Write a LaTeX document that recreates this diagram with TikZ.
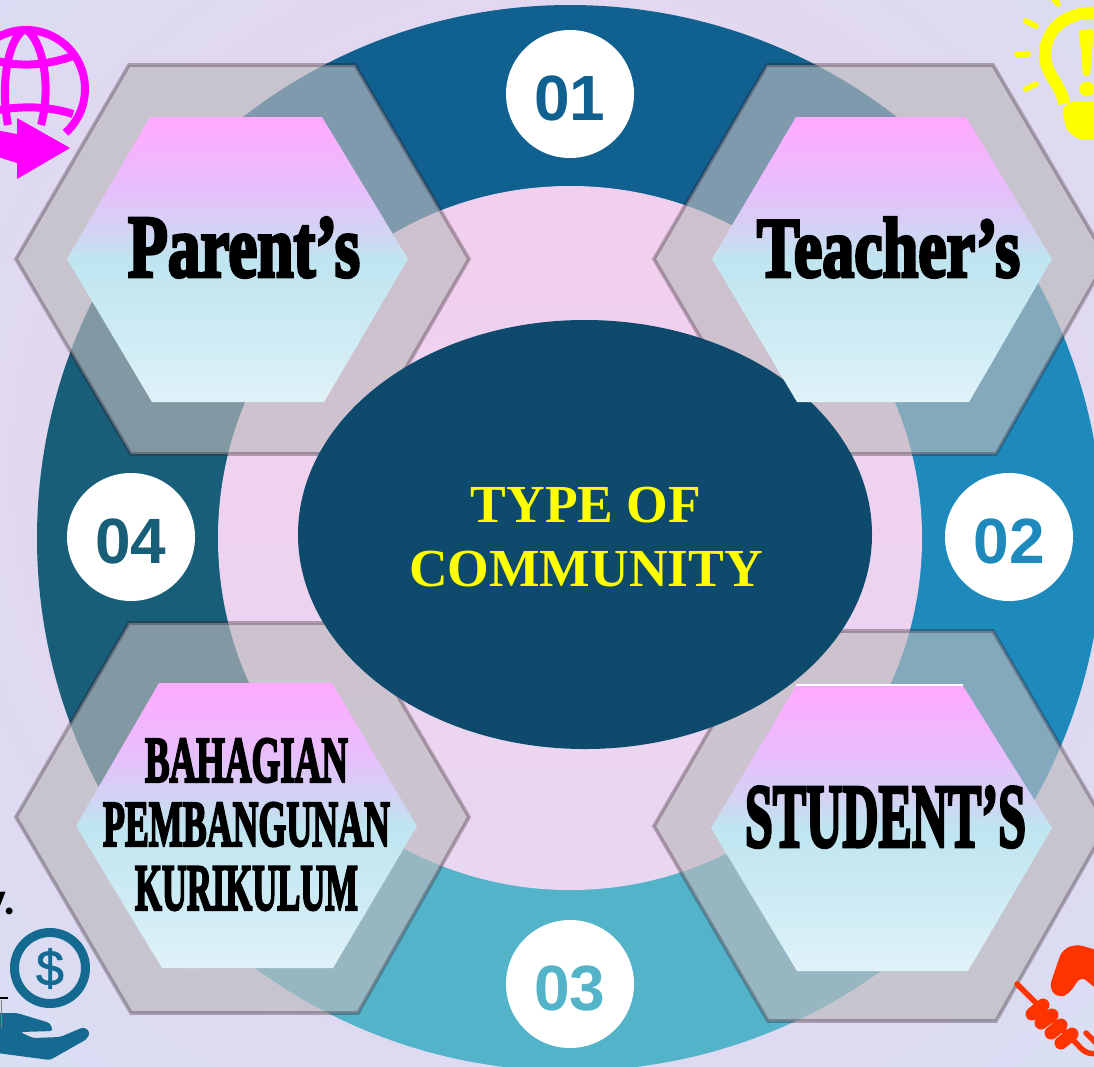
\documentclass[tikz,border=0pt]{standalone}
\usepackage{fontspec}
\usepackage{graphicx}
\setmainfont{Liberation Serif}
\newfontfamily\numfont{Liberation Sans Bold}
\newfontfamily\dollarfont[FakeBold=1.5]{Liberation Sans}
\newfontfamily\fatfont[FakeBold=4]{Liberation Serif Bold}
\newfontfamily\headfont{Liberation Serif Bold}
\newfontfamily\fragfont{Carlito Bold}
\definecolor{segA}{HTML}{10618F}
\definecolor{segB}{HTML}{1E8ABC}
\definecolor{segC}{HTML}{52B3C9}
\definecolor{segD}{HTML}{185E78}
\definecolor{coreblue}{HTML}{0D4A6C}
\definecolor{hexfill}{HTML}{BBBABD}
\definecolor{hexline}{HTML}{2A1020}
\definecolor{bgA}{HTML}{E9D5F0}
\definecolor{bgB}{HTML}{E3D7F0}
\definecolor{bgC}{HTML}{DDDAF1}
\definecolor{bgD}{HTML}{D7E0F4}
\definecolor{discA}{HTML}{F2CFEE}
\definecolor{discB}{HTML}{E9D6F1}
\definecolor{gA}{HTML}{FFAAFF}
\definecolor{gB}{HTML}{E8BEFC}
\definecolor{gC}{HTML}{D2D3F3}
\definecolor{gD}{HTML}{BFE5F0}
\definecolor{gE}{HTML}{CDEBF4}
\definecolor{gF}{HTML}{E0F2F8}
\definecolor{globecol}{HTML}{FF00FF}
\definecolor{moneycol}{HTML}{156A92}
\definecolor{shakecol}{HTML}{FF3300}
\definecolor{sunny}{HTML}{FFFF00}
\pgfdeclareradialshading{pagebg}{\pgfpoint{0bp}{6bp}}{color(0bp)=(bgA);color(20bp)=(bgB);color(29bp)=(bgC);color(38bp)=(bgD);color(50bp)=(bgD)}
\pgfdeclareverticalshading{hexgrad}{100bp}{color(0bp)=(gF);color(25bp)=(gF);color(37.5bp)=(gE);color(50bp)=(gD);color(55bp)=(gC);color(62.5bp)=(gB);color(75bp)=(gA);color(100bp)=(gA)}
\newcommand{\numtext}[1]{\raisebox{-26pt}[0pt][0pt]{#1}}
\tikzset{
  outerhex/.style={fill=hexfill,fill opacity=.65,draw=hexline,draw opacity=.3,line width=3.6pt,line join=miter},
  innerhex/.style={shading=hexgrad},
  numdisc/.style={circle,fill=white,minimum size=128pt,inner sep=0pt,font=\numfont\fontsize{64}{64}\selectfont},
  headtext/.style={text=sunny,inner sep=0pt,anchor=base,font=\headfont\fontsize{53.5}{53.5}\selectfont},
  hexlabel/.style={text=black,inner sep=0pt,anchor=center,font=\fatfont\fontsize{60}{60}\selectfont},
  globeline/.style={draw=globecol,line width=8pt},
  bulbline/.style={draw=sunny,line width=12pt},
  rayline/.style={draw=sunny,line width=5.5pt,line cap=round},
  fingerline/.style={draw=shakecol,line width=13pt,line cap=round},
  shakeline/.style={draw=shakecol,line width=5.5pt,line cap=round,line join=round},
}
\begin{document}
\begin{tikzpicture}[x=1pt,y=-1pt]
\useasboundingbox (0,0) rectangle (1094,1066);
\clip (0,0) rectangle (1094,1066);
% page background
\shade[shading=pagebg] (0,0) rectangle (1094,1066);
% ring
\coordinate (ringc) at (570,538);
\fill[segA] (ringc) -- ++(-135:533) arc[start angle=-135,end angle=-45,radius=533] -- cycle;
\fill[segB] (ringc) -- ++(-45:533) arc[start angle=-45,end angle=45,radius=533] -- cycle;
\fill[segC] (ringc) -- ++(45:533) arc[start angle=45,end angle=135,radius=533] -- cycle;
\fill[segD] (ringc) -- ++(135:533) arc[start angle=135,end angle=225,radius=533] -- cycle;
\fill[discB] (ringc) circle[radius=352];
\path[top color=discA,bottom color=discB] (ringc) circle[radius=351.5];
% number discs
\node[numdisc,text=segA] (n1) at (570,94) {\numtext{01}};
\node[numdisc,text=segB] (n2) at (1009,537) {\numtext{02}};
\node[numdisc,text=segC] (n3) at (570,984) {\numtext{03}};
\node[numdisc,text=segD] (n4) at (131,537) {\numtext{04}};
% outer hexagons
\draw[outerhex] (16,259) -- (129,65) -- (355,65) -- (469,259) -- (356,454) -- (131,454) -- cycle;
\draw[outerhex] (654,259) -- (767,65) -- (993,65) -- (1107,259) -- (996,454) -- (769,454) -- cycle;
\draw[outerhex] (16,817) -- (129,623) -- (355,623) -- (469,817) -- (358,1013) -- (131,1013) -- cycle;
\draw[outerhex] (654,826) -- (767,631) -- (993,631) -- (1107,826) -- (996,1021) -- (768,1021) -- cycle;
% centre
\fill[coreblue] (585,534.5) ellipse[x radius=287,y radius=214.5];
% inner hexagons
\shade[innerhex] (67,259) -- (150,117) -- (322,117) -- (408,259) -- (324,402) -- (152,402) -- cycle;
\shade[innerhex] (712,259) -- (796,117) -- (966,117) -- (1052,259) -- (969,402) -- (797,402) -- cycle;
\shade[innerhex] (76,826) -- (159,683) -- (332,683) -- (417,826) -- (333,968) -- (162,968) -- cycle;
\shade[innerhex] (711,828) -- (796,686) -- (963,686) -- (1052,828) -- (968,971) -- (797,971) -- cycle;
\draw[white,line width=2pt] (796,685) -- (963,685);
% labels
\node[headtext] (h1) at (586,522) {TYPE OF};
\node[headtext] (h2) at (586,586) {COMMUNITY};
\node[hexlabel] (parent) at (244,247.5) {\resizebox{232pt}{59pt}{Parent’s}};
\node[hexlabel] (teacher) at (888.5,247.5) {\resizebox{263pt}{59pt}{Teacher’s}};
\node[hexlabel] (student) at (885.5,817) {\resizebox{281pt}{60pt}{STUDENT’S}};
\node[hexlabel] (bahagian) at (246.5,760.5) {\resizebox{203pt}{43pt}{BAHAGIAN}};
\node[hexlabel] (pemb) at (246.5,824.5) {\resizebox{287pt}{43pt}{PEMBANGUNAN}};
\node[hexlabel] (kuri) at (246.5,888.5) {\resizebox{223pt}{43pt}{KURIKULUM}};
% globe icon
\draw[globeline] (65.5,132.8) arc[start angle=48,end angle=-230,radius=59];
\draw[globeline] (-12,58) .. controls (15,68) and (45,66) .. (73,56);
\draw[globeline] (-12,112) .. controls (15,106) and (45,105) .. (73,114);
\draw[globeline] (25,29) .. controls (42,38) and (52,85) .. (41,125);
\draw[globeline] (25,29) .. controls (8,38) and (0,85) .. (8,125);
\draw[draw=bgC,line width=5pt,line join=miter] (-5,128) -- (17,132) -- (17,118) -- (70,148);
\fill[globecol] (-5,130) -- (17,134) -- (17,118) -- (70,148) -- (17,179) -- (17,163) -- (-5,156) -- cycle;
% bulb icon
\draw[bulbline] (1100,13) .. controls (1066,10) and (1045,30) .. (1045,55) .. controls (1045,75) and (1062,85) .. (1064,104);
\fill[sunny,rounded corners=4pt] (1062,108) -- (1071,102) -- (1100,102) -- (1100,139) -- (1077,139) -- (1066,129) -- cycle;
\fill[sunny,rounded corners=3pt] (1079,29) -- (1094,29) -- (1090,76) -- (1083,76) -- cycle;
\fill[sunny] (1087,89) circle[radius=7.5];
\draw[rayline] (1026,21) -- (1036,26);
\draw[rayline] (1017,54) -- (1028,54);
\draw[rayline] (1026,89) -- (1036,84);
\draw[rayline] (1052,-3) -- (1058,4);
% money icon
\draw[moneycol,line width=9pt] (50,968) circle[radius=35.5];
\node[inner sep=0pt,text=moneycol,font=\dollarfont\fontsize{50}{50}\selectfont] (dollar) at (50,968.5) {\$};
\fill[moneycol,rounded corners=3pt] (-3,1013) -- (17,1013) -- (50,1023) -- (53,1031) -- (20,1032) -- (33,1038) -- (60,1037) -- (84,1027) -- (90,1032) -- (87,1039) -- (50,1060) -- (-3,1053) -- cycle;
% cut-off text fragments at the left margin
\node[anchor=base east,inner sep=0pt,text=black,font=\fragfont\fontsize{46}{46}\selectfont] (frag) at (16,914) {y.};
\draw[black,line width=2pt] (-2,998) -- (8,998);
\draw[gray,line width=1pt] (1,1000) -- (1,1028);
% handshake icon
\fill[shakecol,rounded corners=7pt] (1049,988) -- (1062,950) -- (1076,944) -- (1100,951) -- (1100,992) -- (1081,976) -- (1069,994) -- (1058,998) -- cycle;
\draw[shakeline] (1017,984) -- (1078,1045) .. controls (1084,1052) and (1090,1056) .. (1100,1052);
\draw[fingerline] (1032,1014) -- (1043,1005);
\draw[fingerline] (1041,1023) -- (1052,1015);
\draw[fingerline] (1051,1033) -- (1061,1025);
\draw[fingerline] (1061,1043) -- (1072,1034);
\draw[shakeline] (1086,1033) -- (1098,1045);
\end{tikzpicture}
\end{document}
